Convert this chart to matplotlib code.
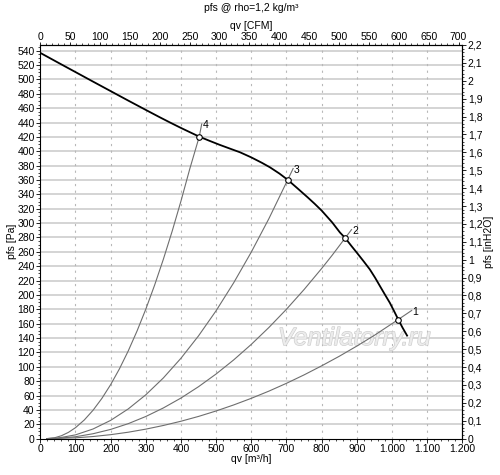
import numpy as np
import matplotlib
matplotlib.use("Agg")
import matplotlib.pyplot as plt
import matplotlib.patheffects as pe
from matplotlib.ticker import MultipleLocator, FuncFormatter

plt.rcParams['font.family'] = ['Liberation Sans', 'DejaVu Sans']

# fan curve (qv m3/h, pfs Pa)
fan_q = [0, 50, 100, 150, 200, 250, 300, 340, 370, 400, 430, 452, 480, 510, 540, 568,
         600, 630, 653, 680, 703.5, 730, 760, 780, 800, 830, 852, 867, 885, 900, 920,
         937, 952, 966, 980, 994, 1006, 1018, 1030, 1043]
fan_p = [537, 523.6, 510.3, 497, 483.8, 470.6, 457.6, 447.3, 439.8, 432.5, 425.5, 420.4,
         414.8, 409, 403.6, 398.6, 391.5, 384, 377.7, 369, 360.3, 349, 336, 327, 317.5,
         301, 287, 279.3, 268, 258.9, 246.5, 235.6, 224, 212.2, 200.5, 189, 177.5, 165.7,
         154.5, 143.4]

# system curves 1..4
sys1_q = [18, 100, 150, 200, 250, 300, 350, 400, 450, 500, 550, 600, 650, 700, 750,
          800, 850, 900, 950, 1017, 1056]
sys1_p = [0, 1.1, 2.9, 5.5, 8.9, 13.2, 18.3, 24.2, 30.9, 38.5, 46.9, 56.1, 66.1, 77,
          88.7, 101.3, 114.6, 128.8, 143.8, 165.5, 178.4]
sys2_q = [18, 50, 100, 150, 200, 250, 300, 350, 400, 450, 500, 550, 600, 650, 700, 750,
          800, 830, 867, 885]
sys2_p = [0, 0.4, 2.6, 6.8, 12.8, 20.8, 30.8, 42.7, 56.5, 72.3, 90, 109.6, 131.2, 154.7,
          180.1, 207.5, 236.8, 255.3, 279.3, 291]
sys3_q = [18, 50, 100, 150, 200, 250, 300, 350, 400, 450, 500, 550, 600, 650, 703.5, 719]
sys3_p = [0, 0.8, 5.2, 13.4, 25.4, 41.3, 61, 84.5, 111.9, 143.1, 178.1, 217, 259.7,
          306.2, 360.3, 376]
sys4_q = [18, 40, 60, 80, 100, 125, 150, 175, 200, 225, 250, 275, 300, 325, 350, 375,
          400, 425, 452, 459]
sys4_p = [0, 1.1, 4, 8.7, 15.2, 25.9, 39.5, 55.9, 75.1, 97.1, 122, 149.7, 180.2, 213.6,
          249.8, 288.8, 330.7, 375.4, 420.4, 438]

op_q = [1017, 867, 703.5, 452]
op_p = [165.5, 279.3, 360.3, 420.4]
op_labels = ["1", "2", "3", "4"]

M3H_PER_CFM = 1.699
PA_PER_INH2O = 249.089

fig = plt.figure(figsize=(5.0, 4.75), dpi=100)
ax = fig.add_axes([0.0806, 0.0766, 0.844, 0.8287])

ax.set_xlim(0, 1200)
ax.set_ylim(0, 2.2 * PA_PER_INH2O)

# grid
for yv in np.arange(20, 541, 20):
    ax.axhline(yv, color='#d4d4d4', lw=1.4, zorder=0)
for xv in np.arange(100, 1101, 100):
    ax.axvline(xv, color='#b8b8b8', lw=0.8, ls=(0, (2, 4)), zorder=0)

ax.text(893, 140, "Ventilatorry.ru", fontsize=18, style='italic', color='#ececec',
        ha='center', va='center', zorder=1,
        path_effects=[pe.withStroke(linewidth=0.9, foreground='#cdcdcd')])

gray = '#6e6e6e'
for q, p in [(sys1_q, sys1_p), (sys2_q, sys2_p), (sys3_q, sys3_p), (sys4_q, sys4_p)]:
    ax.plot(q, p, color=gray, lw=0.8, zorder=2)

ax.plot(fan_q, fan_p, color='black', lw=1.3, zorder=3)
ax.plot(op_q, op_p, 'o', ms=4, mfc='white', mec='black', mew=0.8, zorder=4)

ends = [(sys1_q[-1], sys1_p[-1]), (sys2_q[-1], sys2_p[-1]),
        (sys3_q[-1], sys3_p[-1]), (sys4_q[-1], sys4_p[-1])]
for lab, (q, p) in zip(op_labels, ends):
    ax.annotate(lab, (q, p), xytext=(2.5, -1), textcoords='offset points',
                fontsize=7.5, ha='center', va='center')

fs = 7.5
comma = FuncFormatter(lambda v, pos: ('%g' % round(v, 2)).replace('.', ','))
thousands = FuncFormatter(lambda v, pos: '{:,.0f}'.format(v).replace(',', '.'))

ax.xaxis.set_major_locator(MultipleLocator(100))
ax.xaxis.set_minor_locator(MultipleLocator(20))
ax.xaxis.set_major_formatter(thousands)
ax.yaxis.set_major_locator(MultipleLocator(20))
ax.yaxis.set_minor_locator(MultipleLocator(5))
ax.tick_params(which='major', length=3, width=0.6, labelsize=fs, pad=1)
ax.tick_params(which='minor', length=1.5, width=0.5)
ax.set_xlabel("qv [m³/h]", fontsize=fs, labelpad=0)
ax.set_ylabel("pfs [Pa]", fontsize=fs, labelpad=0)

top = ax.secondary_xaxis('top', functions=(lambda x: x / M3H_PER_CFM, lambda x: x * M3H_PER_CFM))
top.xaxis.set_major_locator(MultipleLocator(50))
top.xaxis.set_minor_locator(MultipleLocator(10))
top.tick_params(which='major', length=2, width=0.6, labelsize=fs, pad=0)
top.tick_params(which='minor', length=1.5, width=0.5)
top.set_xlabel("qv [CFM]", fontsize=fs, labelpad=2.5)

right = ax.secondary_yaxis('right', functions=(lambda y: y / PA_PER_INH2O, lambda y: y * PA_PER_INH2O))
right.yaxis.set_major_locator(MultipleLocator(0.1))
right.yaxis.set_minor_locator(MultipleLocator(0.02))
right.yaxis.set_major_formatter(comma)
right.tick_params(which='major', length=3, width=0.6, labelsize=fs, pad=1)
right.tick_params(which='minor', length=1.5, width=0.5)
right.set_ylabel("pfs [inH2O]", fontsize=fs, labelpad=1)

for s in ax.spines.values():
    s.set_linewidth(0.8)

fig.text(0.502, 0.983, "pfs @ rho=1,2 kg/m³", fontsize=fs, ha='center', va='center')

fig.savefig("out.png", dpi=100)
